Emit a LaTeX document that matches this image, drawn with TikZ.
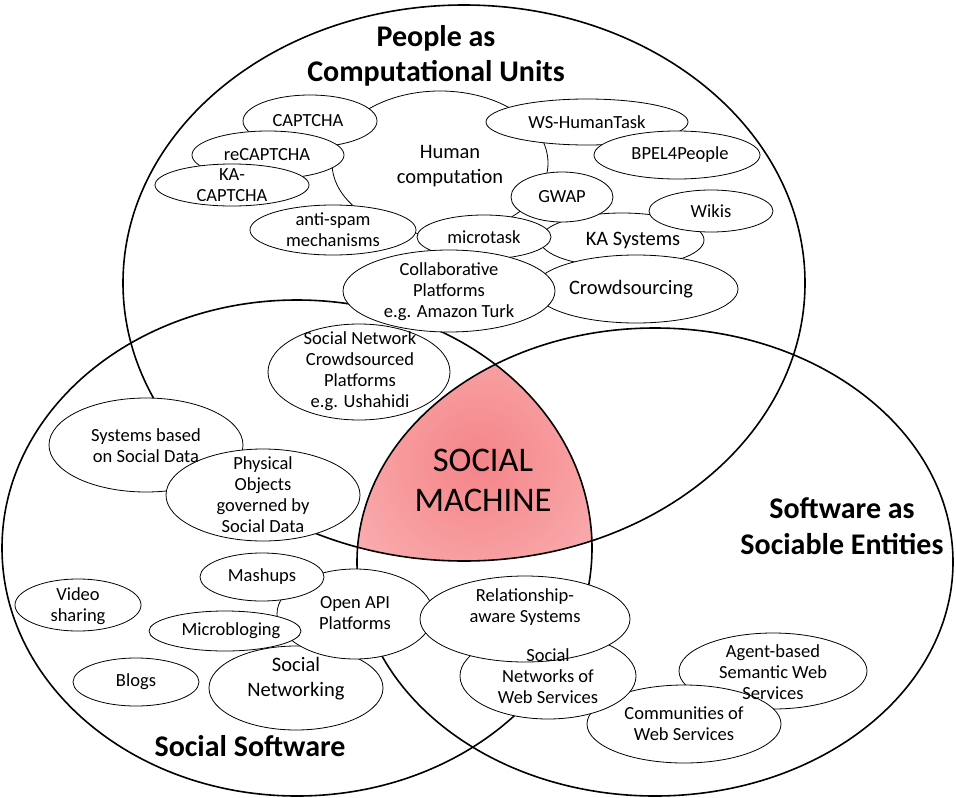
\documentclass[tikz,border=0pt]{standalone}
\usepackage{fontspec}
\setmainfont{Carlito}
\usepackage{tikz}
\definecolor{machinecore}{RGB}{244,132,136}
\definecolor{machineedge}{RGB}{254,206,206}
\tikzset{%
	realm/.style     = {draw, line width=1.6pt},
	bubble/.style    = {draw, fill=white, line width=0.8pt},
	itemtext/.style  = {inner sep=0pt, align=center, font=\fontsize{18.5}{21}\selectfont},
	bigtext/.style   = {itemtext, font=\fontsize{20.5}{25}\selectfont},
	areatitle/.style = {inner sep=0pt, align=center, font=\bfseries\fontsize{30}{35.5}\selectfont},
}

\begin{document}
\begin{tikzpicture}[x=1pt,y=-1pt]
	\useasboundingbox (0,0) rectangle (956,798);
	% shaded core
	\begin{scope}
		\clip (464,283) ellipse (341pt and 278pt);
		\clip (297,548) ellipse (295pt and 248pt);
		\clip (655,562) ellipse (298pt and 234pt);
		\shade[inner color=machinecore, outer color=machineedge] (478,462) circle (270pt);
	\end{scope}
	% three areas
	\draw[realm] (464,283) ellipse (341pt and 278pt);
	\draw[realm] (297,548) ellipse (295pt and 248pt);
	\draw[realm] (655,562) ellipse (298pt and 234pt);
	% people as computational units
	\draw[bubble] (440,163) ellipse (108pt and 72pt);
	\draw[bubble] (310,121) ellipse (67pt and 26pt);
	\draw[bubble] (268,155) ellipse (76pt and 24pt);
	\draw[bubble] (232,185) ellipse (77pt and 21pt);
	\draw[bubble] (333,230) ellipse (83pt and 25pt);
	\draw[bubble] (587,122) ellipse (101pt and 23pt);
	\draw[bubble] (677,155) ellipse (83pt and 24pt);
	\draw[bubble] (622,240) ellipse (82pt and 27pt);
	\draw[bubble] (562,197) ellipse (51pt and 25pt);
	\draw[bubble] (484,237) ellipse (67pt and 22pt);
	\draw[bubble] (711,211) ellipse (62pt and 21pt);
	\draw[bubble] (636,289) ellipse (102pt and 34pt);
	\draw[bubble] (449,291) ellipse (106pt and 41pt);
	\draw[bubble] (359,372) ellipse (91pt and 48pt);
	% social software
	\draw[bubble] (146,445) ellipse (97pt and 47pt);
	\draw[bubble] (263,495) ellipse (97pt and 46pt);
	\draw[bubble] (78,605) ellipse (63pt and 26pt);
	\draw[bubble] (136,682) ellipse (63pt and 24pt);
	\draw[bubble] (296,688) ellipse (87pt and 42pt);
	\draw[bubble] (355,614) ellipse (78pt and 45pt);
	\draw[bubble] (225,631) ellipse (76pt and 20pt);
	\draw[bubble] (262,577) ellipse (62pt and 24pt);
	% software as sociable entities
	\draw[bubble] (773,671) ellipse (94pt and 38pt);
	\draw[bubble] (684,724) ellipse (97pt and 39pt);
	\draw[bubble] (548,676) ellipse (88pt and 43pt);
	\draw[bubble] (525,619) ellipse (105pt and 43pt);
	% texts
	\node[bigtext]  (humancomp) at (450,166) {Human\\computation};
	\node[itemtext] (captcha)   at (308,121) {CAPTCHA};
	\node[itemtext] (recaptcha) at (267,155) {reCAPTCHA};
	\node[itemtext] (kacaptcha) at (232,185) {KA-\\CAPTCHA};
	\node[itemtext] (antispam)  at (333,230) {anti-spam\\mechanisms};
	\node[itemtext] (wshuman)   at (587,122) {WS-HumanTask};
	\node[itemtext] (bpel)      at (680,155) {BPEL4People};
	\node[bigtext]  (kasys)     at (633,240) {KA Systems};
	\node[itemtext] (gwap)      at (562,197) {GWAP};
	\node[itemtext] (microtask) at (484,237) {microtask};
	\node[itemtext] (wikis)     at (711,211) {Wikis};
	\node[bigtext]  (crowd)     at (631,289) {Crowdsourcing};
	\node[itemtext] (collab)    at (449,292) {Collaborative\\Platforms\\e.g. Amazon Turk};
	\node[itemtext] (sncrowd)   at (360,371) {Social Network\\Crowdsourced\\Platforms\\e.g. Ushahidi};
	\node[itemtext] (sysdata)   at (146,446) {Systems based\\on Social Data};
	\node[itemtext] (physical)  at (263,495) {Physical\\Objects\\governed by\\Social Data};
	\node[itemtext] (video)     at (78,606)  {Video\\sharing};
	\node[itemtext] (blogs)     at (136,682) {Blogs};
	\node[bigtext]  (socnet)    at (296,679) {Social\\Networking};
	\node[itemtext] (openapi)   at (355,613) {Open API\\Platforms};
	\node[itemtext] (microblog) at (231,631) {Microbloging};
	\node[itemtext] (mashups)   at (262,577) {Mashups};
	\node[itemtext] (agent)     at (773,672) {Agent-based\\Semantic Web\\Services};
	\node[itemtext] (community) at (684,724) {Communities of\\Web Services};
	\node[itemtext] (snws)      at (548,676) {Social\\Networks of\\Web Services};
	\node[itemtext] (relation)  at (525,607) {Relationship-\\aware Systems};
	% titles
	\node[areatitle] (people)   at (436,56)  {People as\\Computational Units};
	\node[areatitle] (software) at (842,526) {Software as\\Sociable Entities};
	\node[areatitle] (social)   at (250,746) {Social Software};
	\node[inner sep=0pt, align=center, font=\fontsize{34.5}{40}\selectfont] (machine) at (483,480) {SOCIAL\\MACHINE};
\end{tikzpicture}
\end{document}
